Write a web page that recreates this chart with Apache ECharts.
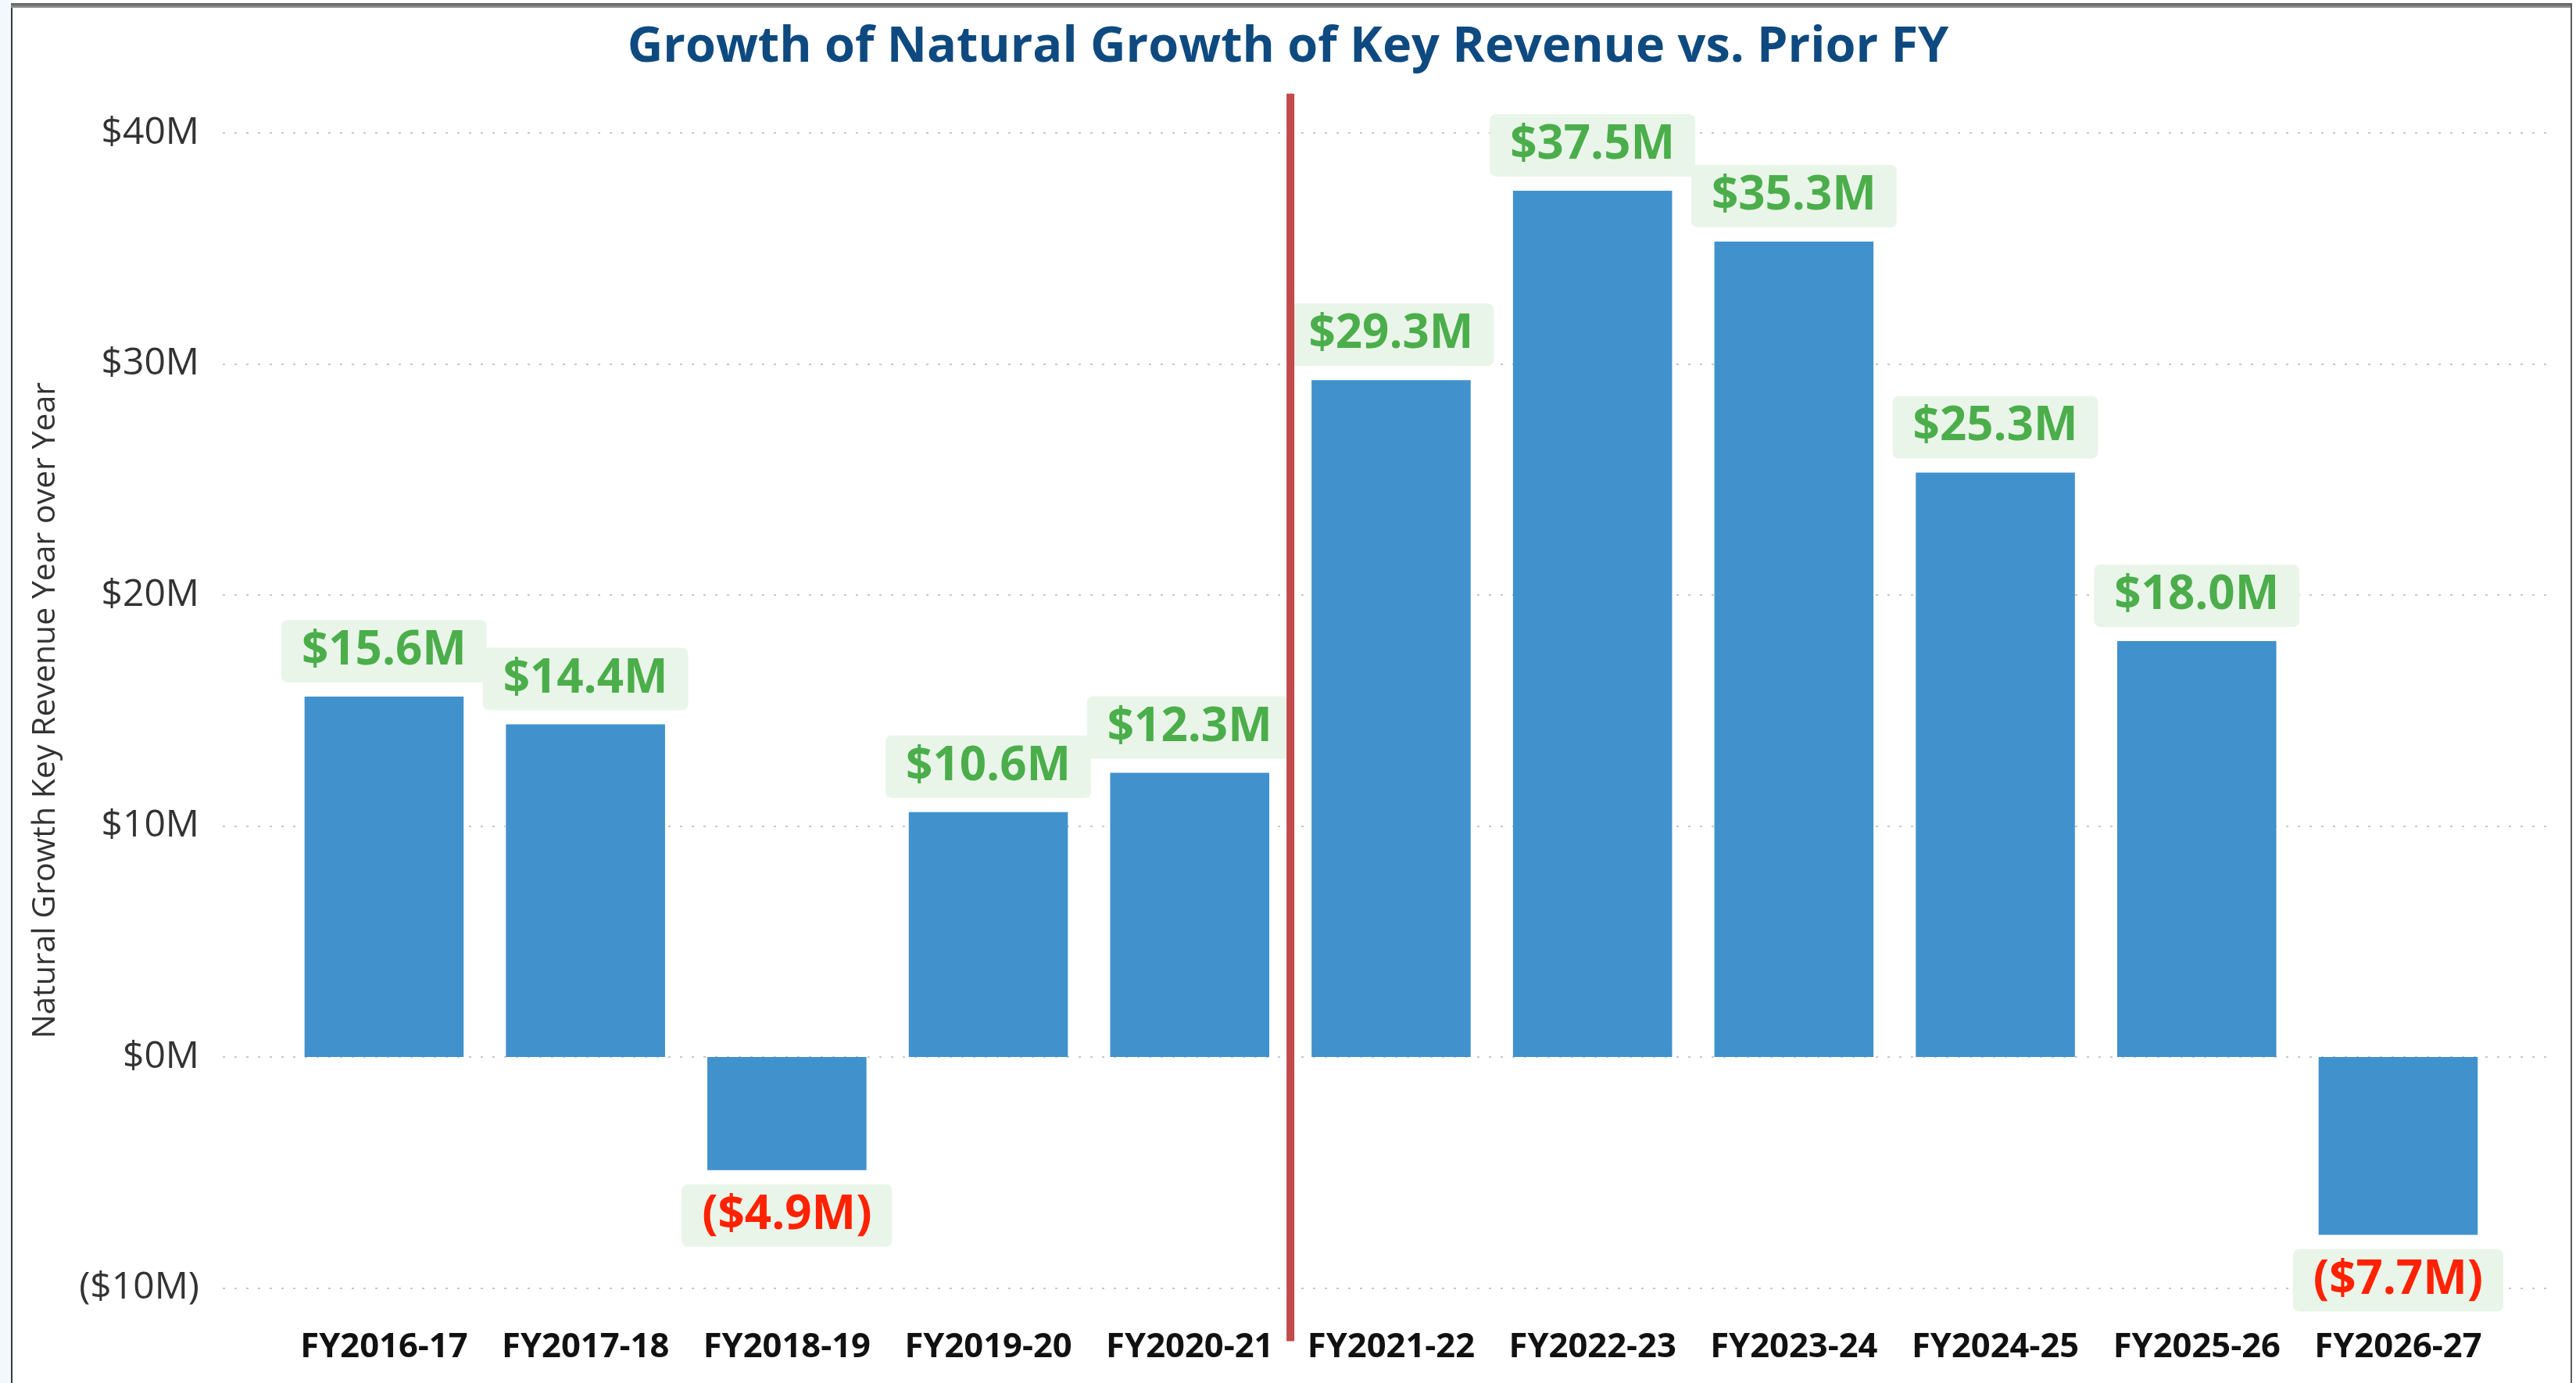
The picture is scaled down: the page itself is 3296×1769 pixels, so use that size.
<!DOCTYPE html>
<html>
<head>
<meta charset="utf-8">
<script src="https://cdn.jsdelivr.net/npm/echarts@6/dist/echarts.min.js"></script>
<style>
  html, body { margin: 0; padding: 0; background: #ffffff; }
  #chart { position: absolute; left: 0; top: 0; width: 3296px; height: 1769px; }
  .frame { position: absolute; pointer-events: none; }
</style>
</head>
<body>
<div class="frame" style="left:0;top:0;width:14px;height:1769px;background:#f3f8fc;"></div>
<div id="chart"></div>
<div class="frame" style="left:14px;top:4px;width:2px;height:1765px;background:#3a3a3a;"></div>
<div class="frame" style="left:14px;top:4px;width:3276px;height:6px;background:linear-gradient(#5a5a5a,#9a9a9a);"></div>
<div class="frame" style="left:3289px;top:4px;width:2px;height:1765px;background:#5a5a5a;"></div>
<script>
// ---- data ----
const categories = ['FY2016-17','FY2017-18','FY2018-19','FY2019-20','FY2020-21','FY2021-22','FY2022-23','FY2023-24','FY2024-25','FY2025-26','FY2026-27'];
const growthValues = [15.6, 14.4, -4.9, 10.6, 12.3, 29.3, 37.5, 35.3, 25.3, 18.0, -7.7]; // $M
const yTicks = [-10, 0, 10, 20, 30, 40]; // $M
const dividerAt = 4.5;             // between FY2020-21 and FY2021-22 (category index)
const dividerSpan = [41.7, -12.3]; // $M extent of the divider line

const fmtMoney = v => v < 0 ? '($' + Math.abs(v).toFixed(1) + 'M)' : '$' + v.toFixed(1) + 'M';
const fmtAxis = v => v < 0 ? '($' + Math.abs(v) + 'M)' : '$' + v + 'M';

const GREEN = '#4bae4b', RED = '#ff2200', BOXBG = '#eaf5ea';

const chart = echarts.init(document.getElementById('chart'), null, { renderer: 'canvas' });

const barData = growthValues.map(v => ({
  value: v,
  label: {
    position: v < 0 ? 'bottom' : 'top',
    color: v < 0 ? RED : GREEN
  }
}));

const option = {
  backgroundColor: 'transparent',
  animation: false,
  title: {
    text: 'Growth of Natural Growth of Key Revenue vs. Prior FY',
    left: 'center',
    top: 25,
    textStyle: { fontFamily: 'Open Sans', fontWeight: 'bold', fontSize: 63, color: '#0e4a80' }
  },
  grid: [
    { left: 285, right: 27, top: 170, bottom: 121.5 },     // gridlines + y labels
    { left: 362.6, right: 98.7, top: 170, bottom: 121.5 }  // bars
  ],
  xAxis: [
    { type: 'category', gridIndex: 0, data: categories, show: false },
    {
      type: 'category', gridIndex: 1, data: categories,
      axisLine: { show: false }, axisTick: { show: false },
      axisLabel: { interval: 0, margin: 54, fontFamily: 'Open Sans', fontWeight: 'bold', fontSize: 43.5, color: '#111' }
    },
    { type: 'value', gridIndex: 1, min: -0.5, max: categories.length - 0.5, show: false, position: 'top' }
  ],
  yAxis: [
    {
      type: 'value', gridIndex: 0, min: yTicks[0], max: yTicks[yTicks.length - 1], interval: 10,
      axisLine: { show: false }, axisTick: { show: false },
      axisLabel: { formatter: fmtAxis, margin: 30, fontFamily: 'Open Sans', fontSize: 48, color: '#333' },
      splitLine: { show: true, lineStyle: { color: '#c8c8c8', width: 2, type: [3, 12] } },
      name: 'Natural Growth Key Revenue Year over Year',
      nameLocation: 'middle', nameRotate: 90, nameGap: 206,
      nameTextStyle: { fontFamily: 'Open Sans', fontSize: 41, color: '#333' }
    },
    {
      type: 'value', gridIndex: 1, min: yTicks[0], max: yTicks[yTicks.length - 1], interval: 10,
      show: false, splitLine: { show: false }
    }
  ],
  series: [
    {
      type: 'bar', xAxisIndex: 1, yAxisIndex: 1,
      data: barData,
      barCategoryGap: '21%',
      itemStyle: { color: '#4191cd' },
      label: {
        show: true,
        distance: 18,
        formatter: p => fmtMoney(p.value),
        fontFamily: 'Open Sans', fontWeight: 'bold', fontSize: 60, lineHeight: 64,
        backgroundColor: BOXBG, borderRadius: 8, padding: [8, 26]
      },
      z: 2
    },
    {
      type: 'line', xAxisIndex: 2, yAxisIndex: 1,
      data: [[dividerAt, dividerSpan[0]], [dividerAt, dividerSpan[1]]],
      symbol: 'none', clip: false, silent: true,
      lineStyle: { color: '#c24a4a', width: 10 },
      z: 5
    }
  ]
};
chart.setOption(option);
</script>
</body>
</html>
